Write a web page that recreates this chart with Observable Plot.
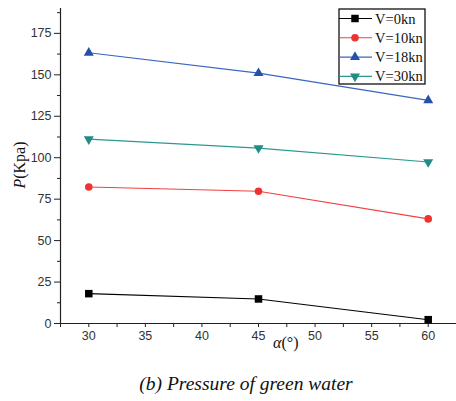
<!DOCTYPE html>
<html><head><meta charset="utf-8">
<script src="https://cdn.jsdelivr.net/npm/d3@7"></script>
<script src="https://cdn.jsdelivr.net/npm/@observablehq/plot@0.6"></script>
<style>
body{margin:0;background:#fff;}
#wrap{position:relative;width:456px;height:401px;overflow:hidden;}
.lbl{position:absolute;font-family:"Liberation Serif",serif;color:#111;white-space:nowrap;}
</style></head><body><div id="wrap"></div>
<script>
const angles = [30, 45, 60];
const seriesNames = ["V=0kn", "V=10kn", "V=18kn", "V=30kn"];
const v0 = [18, 14.8, 2.3];
const v10 = [82.3, 79.8, 63.1];
const v18 = [163.3, 151, 134.6];
const v30 = [111.2, 105.8, 97.4];
const colors = ["#000000", "#ee3333", "#2452a8", "#1f8c86"];
const lineColors = ["#000000", "#f04040", "#3a66c0", "#2a9890"];
const xMajor = [30, 35, 40, 45, 50, 55, 60];
const xMinor = [27.5, 32.5, 37.5, 42.5, 47.5, 52.5, 57.5, 62.5];
const yMajor = [0, 25, 50, 75, 100, 125, 150, 175];
const yMinor = [12.5, 37.5, 62.5, 87.5, 112.5, 137.5, 162.5, 187.5];

const allValues = [v0, v10, v18, v30];
const data = [];
allValues.forEach((vals, i) => vals.forEach((v, j) => data.push({s: seriesNames[i], x: angles[j], y: v})));

const triUp = {draw(ctx, size){ const a = 10, h = a*Math.sqrt(3)/2; ctx.moveTo(0,-h*2/3); ctx.lineTo(a/2,h/3); ctx.lineTo(-a/2,h/3); ctx.closePath(); }};
const triDown = {draw(ctx, size){ const a = 10, h = a*Math.sqrt(3)/2; ctx.moveTo(0,h*2/3); ctx.lineTo(a/2,-h/3); ctx.lineTo(-a/2,-h/3); ctx.closePath(); }};
const sq = {draw(ctx, size){ const s = 7.5; ctx.rect(-s/2,-s/2,s,s); }};
const circ = {draw(ctx, size){ ctx.moveTo(3.8,0); ctx.arc(0,0,3.8,0,2*Math.PI); }};
const symbols = [sq, circ, triUp, triDown];

const tickFont = "Liberation Sans, Arial, sans-serif";
const marks = [
  Plot.ruleX([27.5], {y1: 0, y2: 190, stroke: "#222", strokeWidth: 1.2}),
  Plot.ruleY([0], {x1: 27.5, x2: 62.5, stroke: "#222", strokeWidth: 1.2}),
  Plot.axisY({ticks: yMajor, tickSize: 6, tickPadding: 3, tickFormat: d => String(d), fontSize: 12.5, label: null, stroke: "#222", fill: "#333"}),
  Plot.axisY({ticks: yMinor, tickSize: 3, tickFormat: () => "", label: null, stroke: "#222"}),
  Plot.axisX({ticks: xMajor, tickSize: 4, tickPadding: 4, tickFormat: d => String(d), fontSize: 12.5, label: null, stroke: "#222", fill: "#333"}),
  Plot.axisX({ticks: xMinor, tickSize: 4, tickFormat: () => "", label: null, stroke: "#222"})
];
seriesNames.forEach((name, i) => {
  const d = data.filter(r => r.s === name);
  marks.push(Plot.line(d, {x: "x", y: "y", stroke: lineColors[i], strokeWidth: 1.1}));
  marks.push(Plot.dot(d, {x: "x", y: "y", symbol: symbols[i], fill: colors[i], stroke: "none", r: 4}));
});

const chart = Plot.plot({
  width: 456, height: 360,
  marginLeft: 60, marginRight: 0, marginTop: 8, marginBottom: 37,
  style: {fontFamily: tickFont, fontSize: "12.5px", background: "#fff", overflow: "visible"},
  x: {domain: [27.5, 62.5]},
  y: {domain: [0, 190]},
  marks
});
const wrap = document.getElementById("wrap");
chart.style.position = "absolute"; chart.style.left = "0"; chart.style.top = "0";
wrap.appendChild(chart);

// legend
const lg = d3.select(wrap).append("svg").attr("width", 90).attr("height", 80)
  .style("position", "absolute").style("left", "338px").style("top", "8px");
lg.append("rect").attr("x", 1).attr("y", 1).attr("width", 86).attr("height", 75).attr("fill", "#fff").attr("stroke", "#111").attr("stroke-width", 1.3);
seriesNames.forEach((name, i) => {
  const y = 10.5 + i * 19.3;
  lg.append("line").attr("x1", 1).attr("x2", 34).attr("y1", y).attr("y2", y).attr("stroke", lineColors[i]).attr("stroke-width", 1.1);
  const p = d3.path(); symbols[i].draw(p, 0);
  lg.append("path").attr("d", p.toString()).attr("transform", `translate(17,${y})`).attr("fill", colors[i]);
  lg.append("text").attr("x", 37).attr("y", y + 5).text(name).attr("font-family", "Liberation Serif, serif").attr("font-size", 14.5).attr("fill", "#111");
});

// axis labels and caption
const yl = document.createElement("div");
yl.className = "lbl";
yl.innerHTML = '<i>P</i>(Kpa)';
yl.style.fontSize = "16px";
yl.style.left = "20px"; yl.style.top = "165px";
yl.style.transform = "translate(-50%,-50%) rotate(-90deg)";
wrap.appendChild(yl);

const xl = document.createElement("div");
xl.className = "lbl";
xl.innerHTML = '<i>α</i>(°)';
xl.style.fontSize = "16px";
xl.style.left = "273px"; xl.style.top = "334px";
wrap.appendChild(xl);

const cap = document.createElement("div");
cap.className = "lbl";
cap.innerHTML = '<i>(b) Pressure of green water</i>';
cap.style.fontSize = "19.5px";
cap.style.left = "246px"; cap.style.top = "373px";
cap.style.transform = "translateX(-50%)";
wrap.appendChild(cap);
</script></body></html>
